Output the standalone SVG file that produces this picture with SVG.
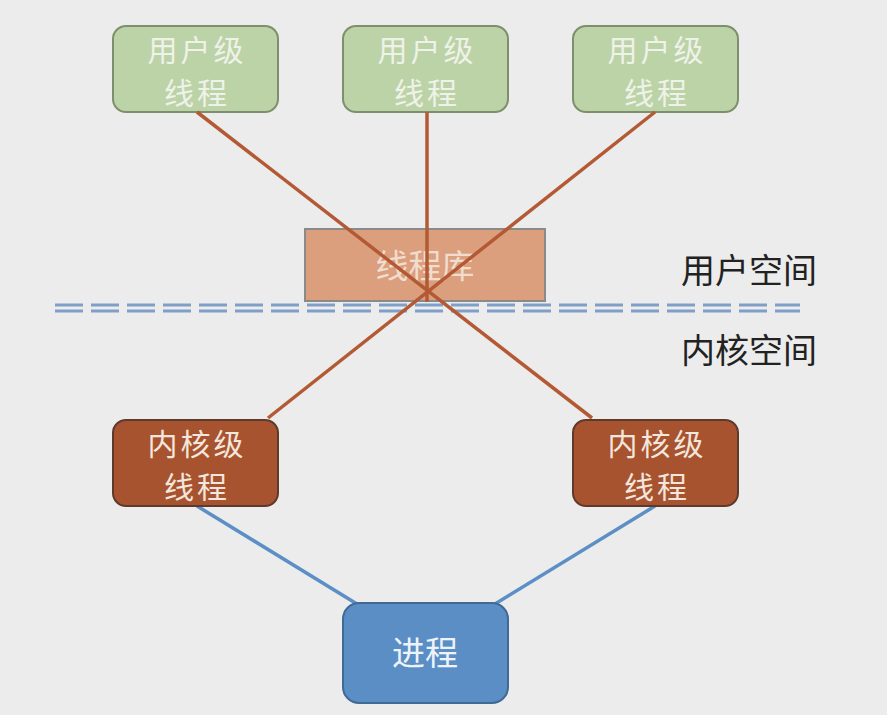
<svg xmlns="http://www.w3.org/2000/svg" width="887" height="715" viewBox="0 0 887 715">
<style>
text{font-family:"Noto Sans CJK SC","Noto Sans CJK JP",sans-serif;text-anchor:middle}
.u rect{fill:#bcd3a7;stroke:#7d8f6c;stroke-width:2}
.u text{fill:#eef2e8;font-size:30px;letter-spacing:3px}
.k rect{fill:#a8532f;stroke:#5e3a2c;stroke-width:2}
.k text{fill:#f3e6dc;font-size:30px;letter-spacing:3px}
.lbl{fill:#222;font-size:34px}
.red{stroke:#b35a34;stroke-width:3.5;fill:none}
.blue{stroke:#5b8fc6;stroke-width:3.5;fill:none}
.dash{stroke:#7f9fc8;stroke-width:3;stroke-dasharray:28 8}
</style>
<rect width="887" height="715" fill="#ececec"/>
<g id="u1" class="u"><rect x="113" y="26" width="165" height="86" rx="13"/><text x="197" y="61">用户级</text><text x="197" y="104">线程</text></g>
<g id="u2" class="u"><rect x="343" y="26" width="165" height="86" rx="13"/><text x="427" y="61">用户级</text><text x="427" y="104">线程</text></g>
<g id="u3" class="u"><rect x="573" y="26" width="165" height="86" rx="13"/><text x="657" y="61">用户级</text><text x="657" y="104">线程</text></g>
<g id="lib"><rect x="305" y="229" width="240" height="72" fill="#dc9f7e" stroke="#8a8a8a" stroke-width="2"/><text x="425" y="278" fill="#f0ddd0" font-size="33">线程库</text></g>
<g id="sep"><line class="dash" x1="55" y1="305" x2="800" y2="305"/><line class="dash" x1="55" y1="311" x2="800" y2="311"/></g>
<g id="connectors">
<line class="red" x1="197" y1="112" x2="592" y2="418"/>
<line class="red" x1="655" y1="112" x2="268" y2="418"/>
<line class="red" x1="427" y1="112" x2="427" y2="302"/>
<line class="blue" x1="197" y1="506" x2="357" y2="604"/>
<line class="blue" x1="655" y1="506" x2="495" y2="604"/>
</g>
<g id="k1" class="k"><rect x="113" y="420" width="165" height="86" rx="13"/><text x="197" y="455">内核级</text><text x="197" y="498">线程</text></g>
<g id="k2" class="k"><rect x="573" y="420" width="165" height="86" rx="13"/><text x="657" y="455">内核级</text><text x="657" y="498">线程</text></g>
<g id="proc"><rect x="343" y="603" width="165" height="100" rx="16" fill="#5a8ec4" stroke="#3f6a96" stroke-width="2"/><text x="425" y="665" fill="#eef3fa" font-size="33">进程</text></g>
<text class="lbl" x="749" y="283">用户空间</text>
<text class="lbl" x="749" y="363">内核空间</text>
</svg>
